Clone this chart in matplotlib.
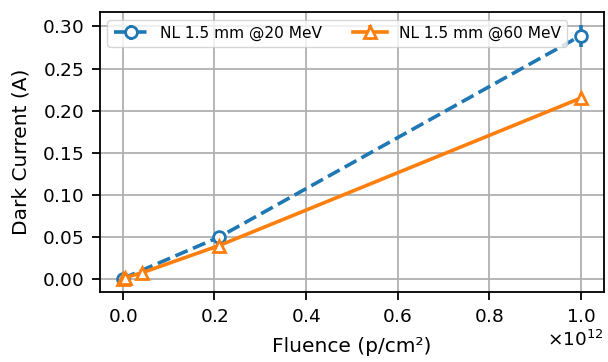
import numpy as np
import matplotlib
matplotlib.use("Agg")
import matplotlib.pyplot as plt

# fluence (p/cm^2) and dark current (A)
fluence_20 = np.array([0.0, 0.21e12, 1.0e12])
current_20 = np.array([0.001, 0.050, 0.289])
err_20 = np.array([0.0, 0.0, 0.013])

fluence_60 = np.array([0.0, 0.005e12, 0.043e12, 0.21e12, 1.0e12])
current_60 = np.array([0.0, 0.002, 0.008, 0.040, 0.215])
err_60 = np.array([0.0, 0.0, 0.0, 0.0, 0.006])

plt.rcParams["axes.formatter.use_mathtext"] = True

fig = plt.figure(figsize=(6.08, 3.62), dpi=100)
ax = fig.add_axes([0.164, 0.193, 0.829, 0.774])

ax.errorbar(fluence_20, current_20, yerr=err_20, color="tab:blue", ls="--", lw=2.6,
            marker="o", ms=8.5, mfc="white", mew=2, elinewidth=2.6,
            label="NL 1.5 mm @20 MeV")
ax.errorbar(fluence_60, current_60, yerr=err_60, color="tab:orange", ls="-", lw=2.6,
            marker="^", ms=8.5, mfc="white", mew=2, elinewidth=2.6,
            label="NL 1.5 mm @60 MeV")

ax.grid(True, color="#b0b0b0", lw=1.3)
ax.set_axisbelow(True)
ax.tick_params(labelsize=13.3, width=1.3, length=6, pad=5.5)
for s in ax.spines.values():
    s.set_linewidth(1.3)
ax.xaxis.get_offset_text().set_fontsize(13.3)
ax.set_xlabel("Fluence (p/cm²)", fontsize=14.5, labelpad=8)
ax.set_ylabel("Dark Current (A)", fontsize=14.5, labelpad=8)
ax.legend(ncol=2, fontsize=11.1, loc="upper left", handlelength=2.2)

fig.savefig("out.png", dpi=100)
